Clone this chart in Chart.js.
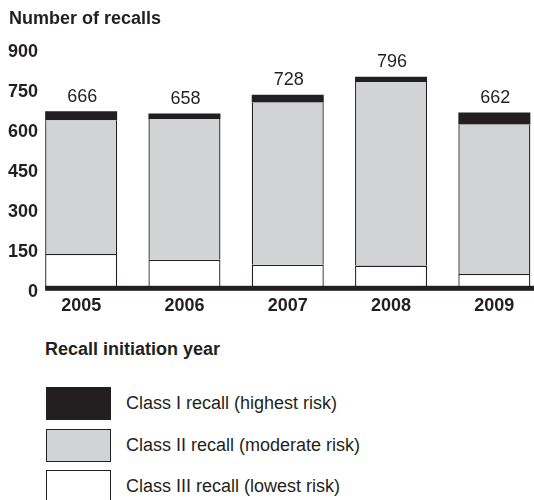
<!DOCTYPE html>
<html>
<head>
<meta charset="utf-8">
<script src="https://cdn.jsdelivr.net/npm/chart.js@4.4.1/dist/chart.umd.min.js"></script>
<style>
  html, body { margin: 0; padding: 0; background: #fff; overflow: hidden; width: 534px; height: 500px; }
  body { position: relative; font-family: "Liberation Sans", Arial, Helvetica, sans-serif; color: #231f20; }
  #wrap { position: absolute; left: 0; top: 0; width: 546px; height: 330px; }
  #xtitle { position: absolute; left: 45px; top: 338.5px; font-size: 18px; font-weight: bold; line-height: 20px; white-space: nowrap; }
  #legend { position: absolute; left: 46px; top: 387px; }
  .item { display: flex; align-items: center; height: 33px; margin-bottom: 8.7px; }
  .swatch { width: 65px; height: 33px; box-sizing: border-box; border: 1.5px solid #231f20; margin-right: 15px; }
  .item span { font-size: 18px; line-height: 33px; white-space: nowrap; }
</style>
</head>
<body>
<div id="wrap"><canvas id="recallChart"></canvas></div>
<div id="xtitle">Recall initiation year</div>
<div id="legend"></div>
<script>
var years = ['2005', '2006', '2007', '2008', '2009'];
var classI = [33, 21, 29, 20, 45];
var classII = [502, 528, 609, 689, 561];
var classIII = [131, 109, 90, 87, 56];
var yTicks = [0, 150, 300, 450, 600, 750, 900];

var ink = '#231f20';
var family = '"Liberation Sans", Arial, Helvetica, sans-serif';
Chart.defaults.font.family = family;
Chart.defaults.color = ink;

// thick baseline + totals above each bar
var totalsPlugin = {
    id: 'totals',
    afterDatasetsDraw: function (chart) {
        var ctx = chart.ctx;
        var topBars = chart.getDatasetMeta(chart.data.datasets.length - 1).data;
        var first = chart.getDatasetMeta(0).data[0];
        var y0 = chart.scales.y.getPixelForValue(0);
        ctx.save();
        ctx.fillStyle = ink;
        ctx.fillRect(first.x - first.width / 2, y0 - 3, chart.width, 5);
        ctx.font = '18px ' + family;
        ctx.textAlign = 'center';
        ctx.textBaseline = 'alphabetic';
        topBars.forEach(function (bar, i) {
            var total = classI[i] + classII[i] + classIII[i];
            ctx.fillText(String(total), bar.x + 1, bar.y - 9.5);
        });
        ctx.restore();
    }
};

var chart = new Chart(document.getElementById('recallChart').getContext('2d'), {
    type: 'bar',
    data: {
        labels: years,
        datasets: [{
            label: 'Class III recall (lowest risk)',
            data: classIII,
            backgroundColor: '#ffffff',
            borderColor: ink,
            borderWidth: { top: 1.3, left: 1.3, right: 1.3, bottom: 0 }
        }, {
            label: 'Class II recall (moderate risk)',
            data: classII,
            backgroundColor: '#d1d3d4',
            borderColor: ink,
            borderWidth: { top: 0, left: 1.3, right: 1.3, bottom: 0 }
        }, {
            label: 'Class I recall (highest risk)',
            data: classI,
            backgroundColor: ink,
            borderColor: ink,
            borderWidth: 0
        }]
    },
    options: {
        responsive: true,
        maintainAspectRatio: false,
        animation: false,
        datasets: {
            bar: { barPercentage: 0.697, categoryPercentage: 1, borderSkipped: false }
        },
        layout: { padding: { left: 9, right: 0, top: 0, bottom: 7.6 } },
        plugins: {
            legend: { display: false },
            tooltip: { enabled: false },
            title: {
                display: true,
                text: 'Number of recalls',
                align: 'start',
                color: ink,
                font: { size: 18, weight: 'bold' },
                padding: { top: 8.7, bottom: 18.7 }
            }
        },
        scales: {
            x: {
                stacked: true,
                grid: { display: false, drawTicks: false },
                border: { display: false },
                ticks: { color: ink, font: { size: 18, weight: 'bold' }, padding: 6 }
            },
            y: {
                stacked: true,
                min: yTicks[0],
                max: yTicks[yTicks.length - 1],
                grid: { display: false, drawTicks: false },
                border: { display: false },
                ticks: {
                    stepSize: yTicks[1] - yTicks[0],
                    color: ink,
                    font: { size: 18, weight: 'bold' },
                    mirror: true,
                    crossAlign: 'far',
                    padding: -21.5,
                    labelOffset: 3.5
                },
                afterFit: function (scale) { scale.width = 20.5; }
            }
        }
    },
    plugins: [totalsPlugin]
});

var legend = document.getElementById('legend');
chart.data.datasets.slice().reverse().forEach(function (ds) {
    var row = document.createElement('div');
    row.className = 'item';
    var sw = document.createElement('div');
    sw.className = 'swatch';
    sw.style.background = ds.backgroundColor;
    var t = document.createElement('span');
    t.textContent = ds.label;
    row.appendChild(sw);
    row.appendChild(t);
    legend.appendChild(row);
});
</script>
</body>
</html>
